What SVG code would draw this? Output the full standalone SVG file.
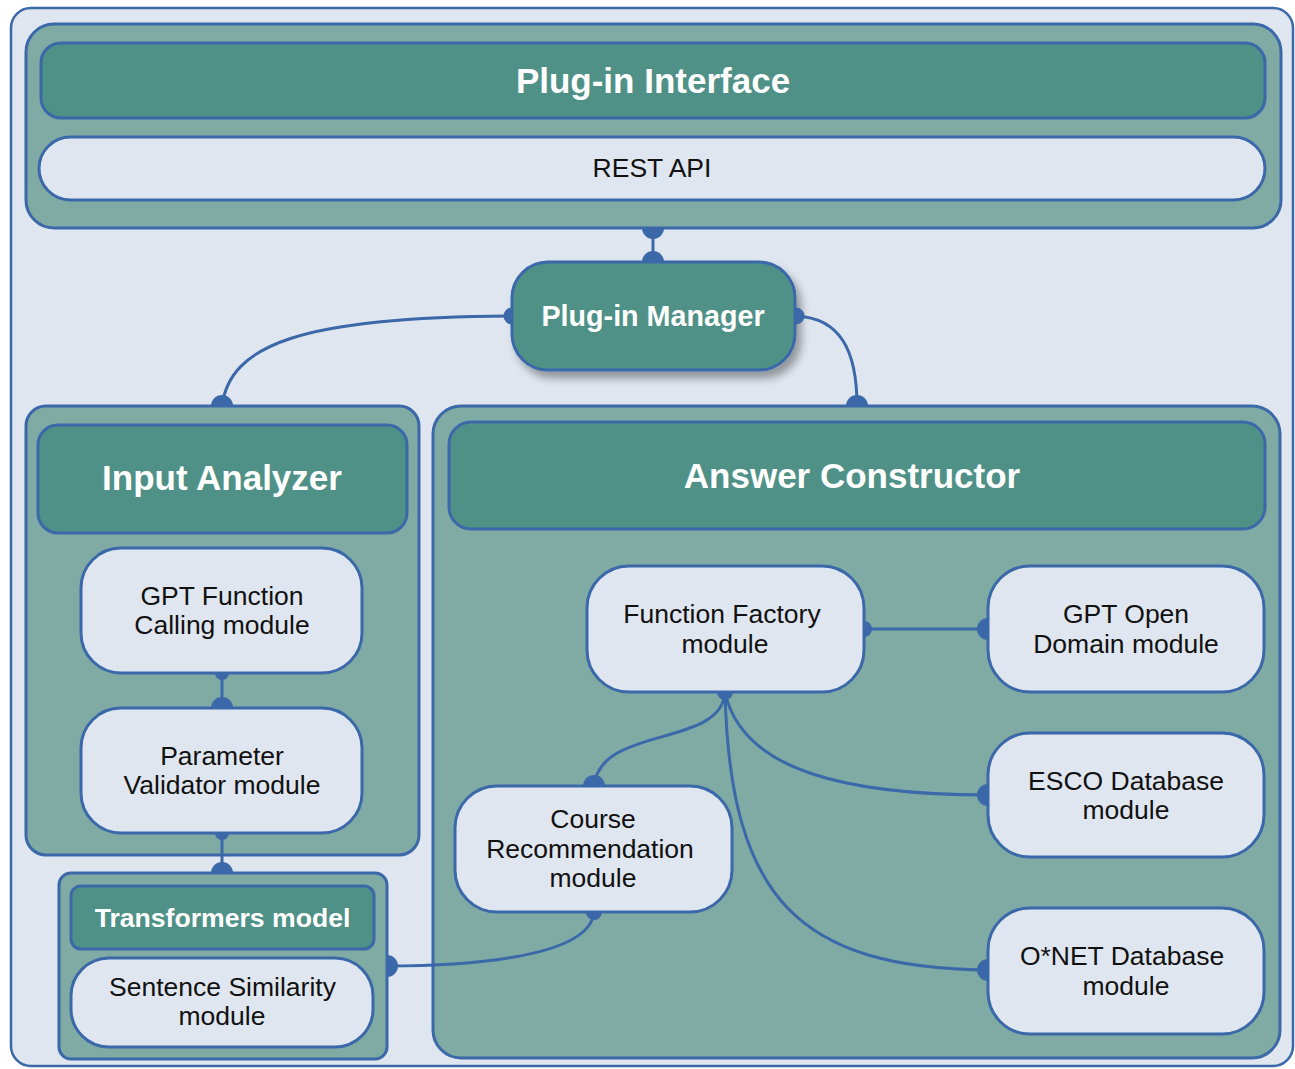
<svg xmlns="http://www.w3.org/2000/svg" width="1295" height="1069" viewBox="0 0 1295 1069">
  <defs>
    <style>
      .frame { fill: #dfe6ef; stroke: #3a68a8; stroke-width: 2.5; }
      .box { fill: #80aaa4; stroke: #3a68a8; stroke-width: 3; }
      .bar { fill: #4f9187; stroke: #3a68a8; stroke-width: 3; }
      .mod { fill: #dfe6ef; stroke: #3a68a8; stroke-width: 3; }
      .wire { fill: none; stroke: #3a68a8; stroke-width: 3; }
      .dot { fill: #3a68a8; stroke: none; }
      .title { font-family: "Liberation Sans", Arial, sans-serif; font-weight: bold; fill: #ffffff; text-anchor: middle; }
      .label { font-family: "Liberation Sans", Arial, sans-serif; font-size: 26.5px; fill: #111111; text-anchor: middle; }
    </style>
    <filter id="shadow" x="-10%" y="-20%" width="130%" height="150%">
      <feGaussianBlur in="SourceAlpha" stdDeviation="4"/>
      <feOffset dx="5" dy="7" result="b"/>
      <feComponentTransfer><feFuncA type="linear" slope="0.35"/></feComponentTransfer>
      <feMerge><feMergeNode/><feMergeNode in="SourceGraphic"/></feMerge>
    </filter>
  </defs>

  <!-- outer frame -->
  <rect class="frame" x="11" y="8" width="1282" height="1058" rx="20"/>

  <!-- plug-in interface block -->
  <g id="plugin-interface">
    <rect class="box" x="26" y="24" width="1255" height="204" rx="28"/>
    <rect class="bar" x="41" y="43" width="1224" height="75" rx="20"/>
    <text class="title" x="653" y="93" font-size="35">Plug-in Interface</text>
  </g>
  <g id="rest-api">
    <rect class="mod" x="39" y="137" width="1226" height="63" rx="31.5"/>
    <text class="label" x="652" y="177">REST API</text>
  </g>

  <!-- plug-in manager -->
  <g id="plugin-manager">
    <rect class="bar" x="512" y="262" width="283" height="108" rx="36" filter="url(#shadow)"/>
    <text class="title" x="653" y="326" font-size="28.7">Plug-in Manager</text>
  </g>

  <!-- input analyzer -->
  <g id="input-analyzer">
    <rect class="box" x="26" y="406" width="393" height="449" rx="20"/>
    <rect class="bar" x="38" y="425" width="369" height="108" rx="20"/>
    <text class="title" x="222" y="490" font-size="35">Input Analyzer</text>
  </g>
  <g id="gpt-function-calling">
    <rect class="mod" x="81" y="548" width="281" height="125" rx="40"/>
    <text class="label" x="222" y="605">GPT Function</text>
    <text class="label" x="222" y="634">Calling module</text>
  </g>
  <g id="parameter-validator">
    <rect class="mod" x="81" y="708" width="281" height="125" rx="40"/>
    <text class="label" x="222" y="765">Parameter</text>
    <text class="label" x="222" y="794">Validator module</text>
  </g>

  <!-- transformers model -->
  <g id="transformers-model">
    <rect class="box" x="59" y="873" width="328" height="186" rx="12"/>
    <rect class="bar" x="71" y="886" width="303" height="63" rx="10"/>
    <text class="title" x="222.5" y="927" font-size="26.6">Transformers model</text>
  </g>
  <g id="sentence-similarity">
    <rect class="mod" x="71" y="958" width="302" height="89" rx="38"/>
    <text class="label" x="222.5" y="996">Sentence Similarity</text>
    <text class="label" x="222" y="1025">module</text>
  </g>

  <!-- answer constructor -->
  <g id="answer-constructor">
    <rect class="box" x="433" y="406" width="847" height="652" rx="28"/>
    <rect class="bar" x="449" y="422" width="816" height="107" rx="22"/>
    <text class="title" x="852" y="488" font-size="35">Answer Constructor</text>
  </g>
  <g id="function-factory">
    <rect class="mod" x="587" y="566" width="277" height="126" rx="42"/>
    <text class="label" x="722" y="623">Function Factory</text>
    <text class="label" x="725" y="653">module</text>
  </g>
  <g id="gpt-open-domain">
    <rect class="mod" x="988" y="566" width="276" height="126" rx="42"/>
    <text class="label" x="1126" y="623">GPT Open</text>
    <text class="label" x="1126" y="653">Domain module</text>
  </g>
  <g id="esco-database">
    <rect class="mod" x="988" y="733" width="276" height="124" rx="42"/>
    <text class="label" x="1126" y="790">ESCO Database</text>
    <text class="label" x="1126" y="819">module</text>
  </g>
  <g id="onet-database">
    <rect class="mod" x="988" y="908" width="276" height="126" rx="42"/>
    <text class="label" x="1122" y="965">O*NET Database</text>
    <text class="label" x="1126" y="995">module</text>
  </g>
  <g id="course-recommendation">
    <rect class="mod" x="455" y="786" width="277" height="126" rx="42"/>
    <text class="label" x="593" y="828">Course</text>
    <text class="label" x="590" y="858">Recommendation</text>
    <text class="label" x="593" y="887">module</text>
  </g>

  <!-- connectors -->
  <g id="connectors">
    <path class="wire" d="M653,228 L653,262"/>
    <path class="wire" d="M512,316 C300,317 230,345 222,406"/>
    <path class="wire" d="M796,316 C840,318 857,350 857,406"/>
    <path class="wire" d="M222,673 L222,708"/>
    <path class="wire" d="M222,833 L222,873"/>
    <path class="wire" d="M864,629 L988,629"/>
    <path class="wire" d="M725,692 C722,748 600,725 594,786"/>
    <path class="wire" d="M725,692 C742,772 850,795 988,795"/>
    <path class="wire" d="M725,692 C730,900 800,968 988,970"/>
    <path class="wire" d="M594,912 C590,960 455,966 387,966"/>

    <!-- end caps -->
    <path class="dot" d="M642,228 A11,11 0 0 0 664,228 Z"/>
    <path class="dot" d="M642,262 A11,11 0 0 1 664,262 Z"/>
    <path class="dot" d="M512,307.5 A8.5,8.5 0 0 0 512,324.5 Z"/>
    <path class="dot" d="M796,307.5 A8.5,8.5 0 0 1 796,324.5 Z"/>
    <path class="dot" d="M211,406 A11,11 0 0 1 233,406 Z"/>
    <path class="dot" d="M846,406 A11,11 0 0 1 868,406 Z"/>
    <path class="dot" d="M215,673 A7,7 0 0 0 229,673 Z"/>
    <path class="dot" d="M211,708 A11,11 0 0 1 233,708 Z"/>
    <path class="dot" d="M215,833 A7,7 0 0 0 229,833 Z"/>
    <path class="dot" d="M211,873 A11,11 0 0 1 233,873 Z"/>
    <path class="dot" d="M864,621 A8,8 0 0 1 864,637 Z"/>
    <path class="dot" d="M988,618 A11,11 0 0 0 988,640 Z"/>
    <path class="dot" d="M717,692 A8,8 0 0 0 733,692 Z"/>
    <path class="dot" d="M583,786 A11,11 0 0 1 605,786 Z"/>
    <path class="dot" d="M988,784 A11,11 0 0 0 988,806 Z"/>
    <path class="dot" d="M988,959 A11,11 0 0 0 988,981 Z"/>
    <path class="dot" d="M586,912 A8,8 0 0 0 602,912 Z"/>
    <path class="dot" d="M387,955 A11,11 0 0 1 387,977 Z"/>
  </g>
</svg>
